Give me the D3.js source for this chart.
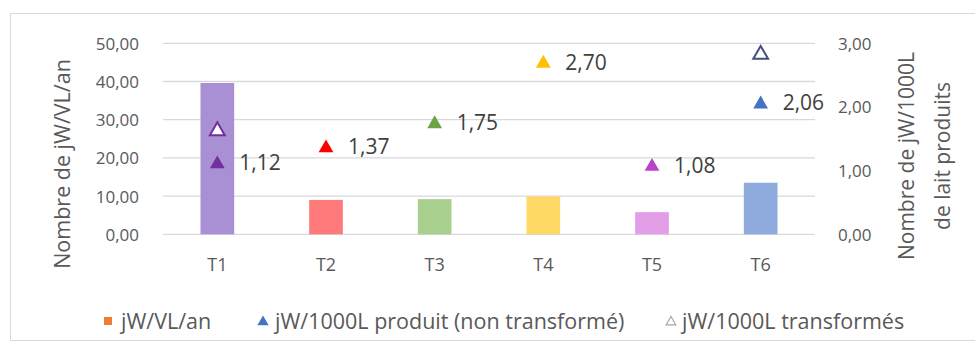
<!DOCTYPE html>
<html><head><meta charset="utf-8">
<script src="https://cdn.jsdelivr.net/npm/d3@7"></script>
<style>
html,body{margin:0;padding:0;background:#fff;}
text{font-family:"Open Sans", Lato, sans-serif;}
</style></head>
<body><svg id="c" width="975" height="351"></svg>
<script>
const categories = ["T1","T2","T3","T4","T5","T6"];
const barValues = [39.6, 9.0, 9.2, 9.9, 5.8, 13.5];          // jW/VL/an (left axis)
const producedValues = [1.12, 1.37, 1.75, 2.70, 1.08, 2.06]; // jW/1000L produit (right axis)
const producedLabels = ["1,12","1,37","1,75","2,70","1,08","2,06"];
const transformedValues = [1.64, null, null, null, null, 2.84]; // jW/1000L transformés (right axis)
const leftTicks = [0,10,20,30,40,50];
const rightTicks = [0,1,2,3];
const barColors = ["#a98fd3","#ff7b7b","#a9cf8f","#ffd966","#e39ee8","#8faadc"];
const triColors = ["#7030a0","#ff0000","#6aa445","#ffc000","#b845c8","#4472c4"];
const hollowColors = ["#7030a0",null,null,null,null,"#44507a"];

const svg = d3.select("#c");
const M = {l:163, r:815, t:43.3, b:234.3};
svg.append("rect").attr("x",10.5).attr("y",13.5).attr("width",975).attr("height",327)
  .attr("fill","#fff").attr("stroke","#d9d9d9");

const x = d3.scaleBand().domain(categories).range([M.l,M.r]).paddingInner(0.69).paddingOuter(0.345);
const yL = d3.scaleLinear().domain([0,50]).range([M.b,M.t]);
const yR = d3.scaleLinear().domain([0,3]).range([M.b,M.t]);
const fmt = d => d3.format(".2f")(d).replace(".",",");

// gridlines
svg.append("g").selectAll("line").data(leftTicks).join("line")
  .attr("x1",M.l).attr("x2",M.r).attr("y1",d=>yL(d)).attr("y2",d=>yL(d))
  .attr("stroke","#d9d9d9").attr("stroke-width",1.3);

// left axis
const axL = svg.append("g").attr("transform",`translate(${M.l-24},0)`)
  .call(d3.axisLeft(yL).tickValues(leftTicks).tickFormat(fmt).tickSize(0).tickPadding(0));
axL.select(".domain").remove();
axL.selectAll("text").attr("fill","#595959").style("font-size","17px").attr("dy","0.35em");

// right axis
const axR = svg.append("g").attr("transform",`translate(${M.r+23},0)`)
  .call(d3.axisRight(yR).tickValues(rightTicks).tickFormat(fmt).tickSize(0).tickPadding(0));
axR.select(".domain").remove();
axR.selectAll("text").attr("fill","#595959").style("font-size","17px").attr("dy","0.35em");

// x axis
const axX = svg.append("g").attr("transform",`translate(0,${M.b+24})`)
  .call(d3.axisBottom(x).tickSize(0).tickPadding(0));
axX.select(".domain").remove();
axX.selectAll("text").attr("fill","#595959").style("font-size","18px").attr("dy","0.71em");

// bars
svg.append("g").selectAll("rect").data(categories).join("rect")
  .attr("x",d=>x(d)).attr("width",x.bandwidth())
  .attr("y",(d,i)=>yL(barValues[i])).attr("height",(d,i)=>yL(0)-yL(barValues[i]))
  .attr("fill",(d,i)=>barColors[i]);

const tri = d3.symbol().type(d3.symbolTriangle).size(95);
// hollow triangles
svg.append("g").selectAll("path").data(categories.map((c,i)=>({c,v:transformedValues[i],col:hollowColors[i]})).filter(d=>d.v!=null))
  .join("path").attr("d",tri)
  .attr("transform",d=>`translate(${x(d.c)+x.bandwidth()/2},${yR(d.v)+1})`)
  .attr("fill","#fff").attr("stroke",d=>d.col).attr("stroke-width",2);
// filled triangles
svg.append("g").selectAll("path").data(categories).join("path").attr("d",tri)
  .attr("transform",(d,i)=>`translate(${x(d)+x.bandwidth()/2},${yR(producedValues[i])+1})`)
  .attr("fill",(d,i)=>triColors[i]);
// data labels
svg.append("g").selectAll("text").data(categories).join("text")
  .attr("x",d=>x(d)+x.bandwidth()/2+22).attr("y",(d,i)=>yR(producedValues[i]))
  .attr("dy","0.35em").attr("fill","#404040").style("font-size","21px")
  .text((d,i)=>producedLabels[i]);

// axis titles
svg.append("text").attr("transform","translate(70,164) rotate(-90)").attr("text-anchor","middle")
  .attr("fill","#595959").style("font-size","21.5px").text("Nombre de jW/VL/an");
svg.append("text").attr("transform","translate(914,156) rotate(-90)").attr("text-anchor","middle")
  .attr("fill","#595959").style("font-size","21px").text("Nombre de jW/1000L");
svg.append("text").attr("transform","translate(950,156) rotate(-90)").attr("text-anchor","middle")
  .attr("fill","#595959").style("font-size","21px").text("de lait produits");

// legend
const ly = 321;
const lg = svg.append("g");
lg.append("rect").attr("x",104).attr("y",ly-4).attr("width",8).attr("height",8).attr("fill","#ed7d31");
lg.append("text").attr("x",121).attr("y",ly).attr("dy","0.35em").attr("fill","#595959").style("font-size","21.5px").text("jW/VL/an");
lg.append("path").attr("d",d3.symbol().type(d3.symbolTriangle).size(55))
  .attr("transform",`translate(263,${ly+1})`).attr("fill","#4472c4");
lg.append("text").attr("x",275).attr("y",ly).attr("dy","0.35em").attr("fill","#595959").style("font-size","21.5px").text("jW/1000L produit (non transformé)");
lg.append("path").attr("d",d3.symbol().type(d3.symbolTriangle).size(40))
  .attr("transform",`translate(671,${ly+1})`).attr("fill","#fff").attr("stroke","#a6a6a6").attr("stroke-width",1.2);
lg.append("text").attr("x",682).attr("y",ly).attr("dy","0.35em").attr("fill","#595959").style("font-size","21.5px").text("jW/1000L transformés");
</script></body></html>
